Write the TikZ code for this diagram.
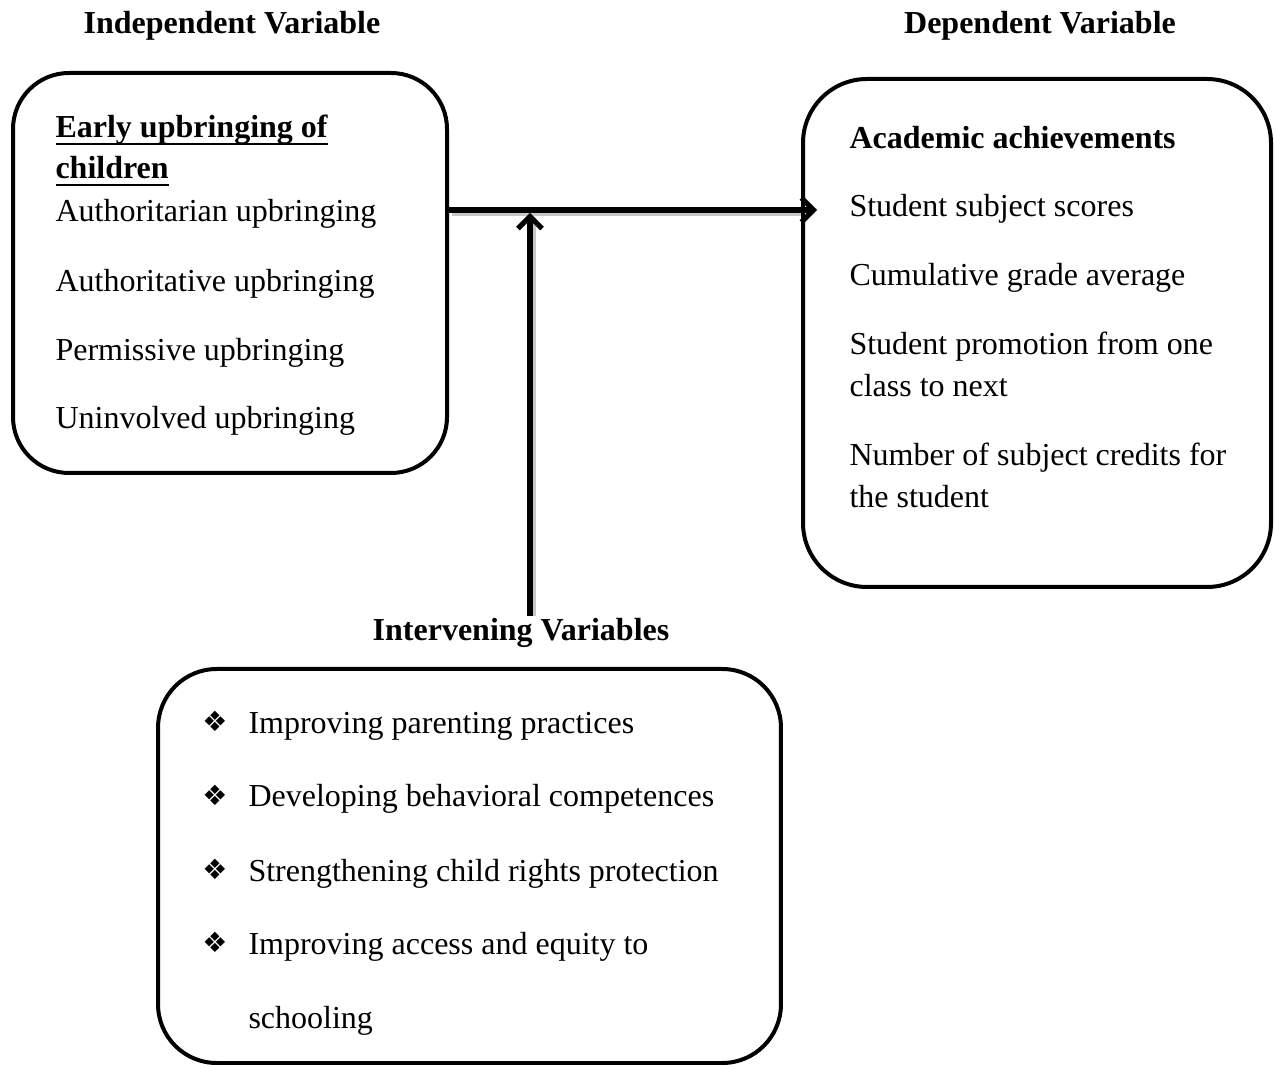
\documentclass[tikz,border=0pt]{standalone}
\usepackage{fontspec}
\setmainfont{Liberation Serif}
\newfontfamily\symfont{DejaVu Sans}
\usetikzlibrary{arrows.meta}

\newcommand\undl[1]{\setbox0\hbox{#1}\rlap{\rule[-2.6pt]{\wd0}{0.9pt}}\box0}

\tikzset{
  varbox/.style={draw,line width=1.5pt,rounded corners=#1,inner sep=0pt},
  heading/.style={font=\fontsize{12}{14}\selectfont\bfseries,anchor=base,inner sep=1pt},
  item/.style={font=\fontsize{12}{14}\selectfont,anchor=base west,inner sep=0pt},
  bul/.style={font=\symfont\fontsize{10.5}{12}\selectfont,inner sep=0pt},
  link/.style={line width=1.9pt,-{Straight Barb[length=4.5pt,width=9pt,line width=1.9pt]}},
  linkshadow/.style={line width=1.9pt,gray!45}
}

\begin{document}
\begin{tikzpicture}[x=0.375pt,y=-0.375pt]
\useasboundingbox (0,0) rectangle (1275,1065);

% Headings
\node[heading] (indeptitle) at (232,34) {Independent Variable};
\node[heading] (deptitle) at (1040,34) {Dependent Variable};
\node[heading] (intertitle) at (521,641) {Intervening Variables};

% Boxes
\node[varbox=21pt,minimum width=162.75pt,minimum height=150pt] (indep) at (230,273) {};
\node[varbox=24pt,minimum width=175.5pt,minimum height=190.5pt] (dep) at (1037,333) {};
\node[varbox=22pt,minimum width=233.6pt,minimum height=147.75pt] (inter) at (469.5,866) {};

% Independent variable
\node[item,font=\fontsize{12}{14}\selectfont\bfseries] (early) at (55,138) {\undl{Early upbringing of}};
\node[item,font=\fontsize{12}{14}\selectfont\bfseries] (child) at (55,179) {\undl{children}};
\foreach \y/\t [count=\i] in {222/Authoritarian upbringing, 292/Authoritative upbringing,
    361/Permissive upbringing, 429/Uninvolved upbringing}
  \node[item] (ind\i) at (55,\y) {\t};

% Dependent variable
\node[item,font=\fontsize{12}{14}\selectfont\bfseries] (acad) at (849,149) {Academic achievements};
\foreach \y/\t [count=\i] in {217/Student subject scores, 286/Cumulative grade average,
    355/Student promotion from one, 397/class to next,
    466/Number of subject credits for, 508/the student}
  \node[item] (dep\i) at (849,\y) {\t};

% Intervening variables
\foreach \y/\t [count=\i] in {733/Improving parenting practices, 807/Developing behavioral competences,
    881/Strengthening child rights protection, 954/Improving access and equity to}
{
  \node[bul] (b\i) at (215,\y-12) {❖};
  \node[item] (int\i) at (248,\y) {\t};
}
\node[item] (int5) at (248,1028) {schooling};

% Connectors
\coordinate (join) at (530,213);
\draw[linkshadow] ([xshift=1pt,yshift=-1.2pt]indep.east |- 0,210) -- ([yshift=-1.2pt]dep.west |- 0,210);
\draw[linkshadow] ([xshift=1.2pt]intertitle.north -| join) -- ([xshift=1.2pt,yshift=-2pt]join);
\draw[link] (indep.east |- 0,210) -- ([xshift=6pt]dep.west |- 0,210);
\draw[link] (intertitle.north -| join) -- (join);

\end{tikzpicture}
\end{document}
